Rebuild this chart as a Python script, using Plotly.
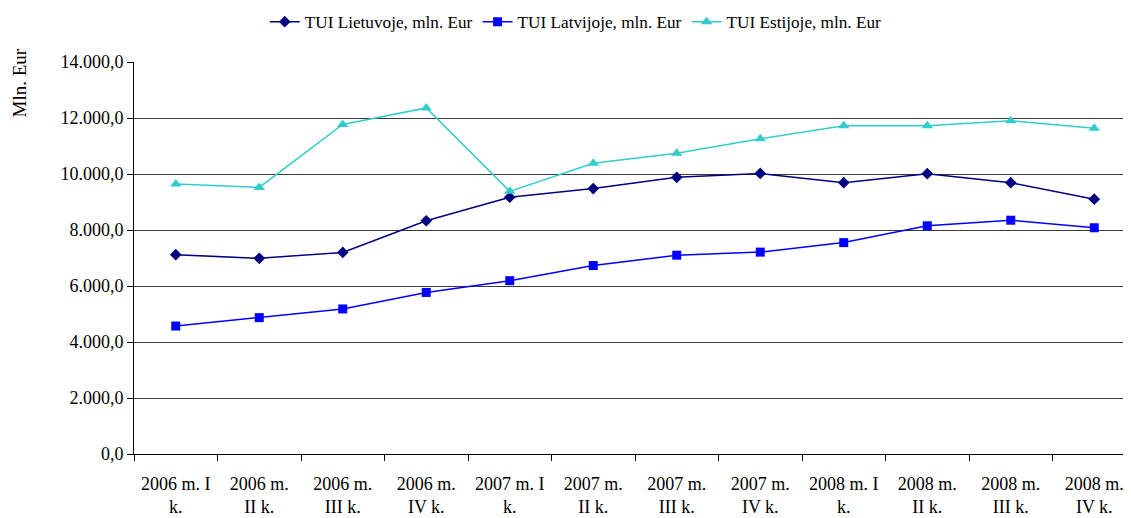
import plotly.graph_objects as go

categories = ["2006 m. I<br>k.", "2006 m.<br>II k.", "2006 m.<br>III k.", "2006 m.<br>IV k.",
              "2007 m. I<br>k.", "2007 m.<br>II k.", "2007 m.<br>III k.", "2007 m.<br>IV k.",
              "2008 m. I<br>k.", "2008 m.<br>II k.", "2008 m.<br>III k.", "2008 m.<br>IV k."]
lietuva = [7120, 6990, 7200, 8330, 9170, 9480, 9880, 10020, 9690, 10010, 9690, 9100]
latvija = [4570, 4870, 5180, 5770, 6190, 6730, 7100, 7210, 7550, 8150, 8350, 8080]
estija = [9640, 9520, 11770, 12360, 9380, 10380, 10740, 11260, 11720, 11720, 11900, 11630]

names = ["TUI Lietuvoje, mln. Eur", "TUI Latvijoje, mln. Eur", "TUI Estijoje, mln. Eur"]
colors = ["#000080", "#0000FF", "#33CCCC"]
symbols = ["diamond", "square", "triangle-up"]
sizes = [9, 9, 10]

FONT = "Liberation Serif, Times New Roman, serif"

fig = go.Figure()
for vals, name, col, sym, sz in zip([lietuva, latvija, estija], names, colors, symbols, sizes):
    fig.add_trace(go.Scatter(
        x=categories, y=vals, name=name, mode="lines+markers",
        line=dict(color=col, width=1.5),
        marker=dict(symbol=sym, size=sz, color=col),
    ))

fig.update_layout(
    width=1131, height=518,
    margin=dict(l=126, r=3, t=54, b=72),
    paper_bgcolor="white", plot_bgcolor="white",
    font=dict(family=FONT, color="black", size=18),
    separators=",.",
    showlegend=True,
    legend=dict(orientation="h", xref="container", yref="container",
                x=0.502, xanchor="center", y=0.973, yanchor="middle",
                font=dict(size=17.2), bgcolor="rgba(0,0,0,0)", itemwidth=30),
    xaxis=dict(type="category", range=[-0.5, 11.5], showgrid=False, automargin=False,
               showline=True, linecolor="black", linewidth=1,
               ticks="outside", tickson="boundaries", ticklen=6, tickcolor="black",
               ticklabelstandoff=13,
               tickfont=dict(size=18, family=FONT)),
    yaxis=dict(range=[0, 14000], dtick=2000, tickformat=",.1f", automargin=False,
               showgrid=True, gridcolor="#3a3a3a", gridwidth=1,
               showline=True, linecolor="black", linewidth=1,
               ticks="outside", ticklen=6, tickcolor="black",
               tickfont=dict(size=18, family=FONT), zeroline=False),
    annotations=[dict(text="Mln. Eur", textangle=-90, xref="paper", yref="paper",
                      x=-0.115, y=1.03, xanchor="center", yanchor="top",
                      showarrow=False, font=dict(size=19, family=FONT))],
)
fig.update_annotations(xshift=1, yshift=4)

fig.write_html("out.html")
